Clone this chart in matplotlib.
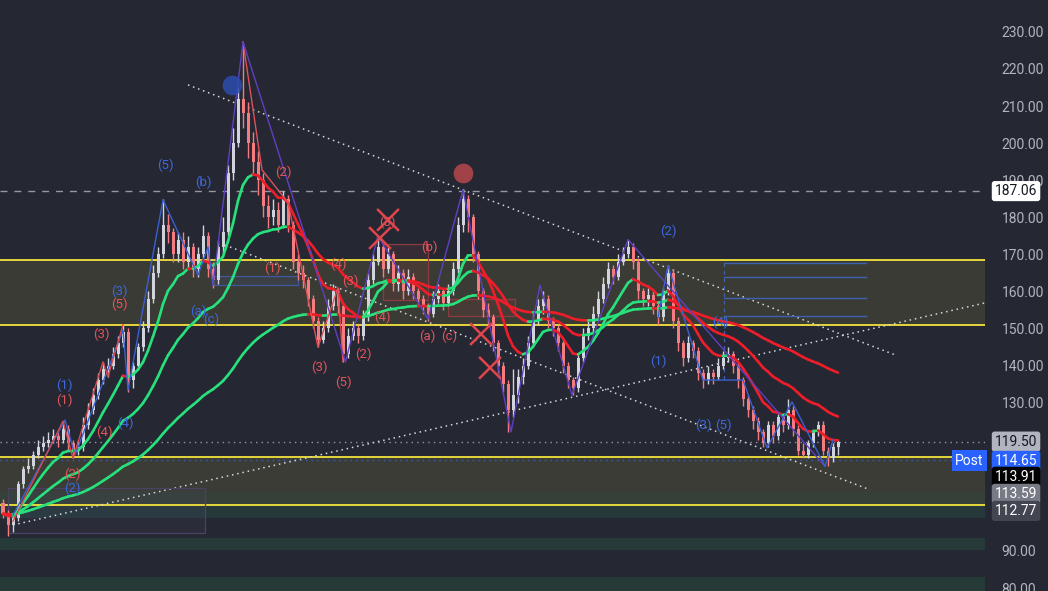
import matplotlib
matplotlib.use("Agg")
import matplotlib.pyplot as plt
import matplotlib.transforms as mtransforms
from matplotlib.collections import LineCollection
from matplotlib.patches import Rectangle
import numpy as np
import pandas as pd

plt.rcParams['font.family'] = ['Roboto', 'DejaVu Sans']

BG = '#252832'
UP = '#d1d4dc'
DOWN = '#f47b80'
GREEN = '#27e27c'
RED = '#ee1d2a'
BLUE_TXT = '#3d68dc'
RED_TXT = '#e2545a'
YELLOW = '#f3e33c'

# daily candles (open = previous close)
first_open = 103
closes = [100, 97, 99, 108, 112, 113, 116, 118, 119, 120, 121, 120, 123, 119, 117, 118,
          124, 128, 132, 136, 139, 140, 143, 146, 149, 136, 140, 145, 150, 158, 165, 170,
          178, 176, 170, 174, 168, 172, 166, 170, 175, 166, 163, 172, 176, 192, 200, 212,
          208, 200, 195, 190, 183, 180, 182, 178, 185, 178, 168, 165, 163, 158, 152, 147,
          150, 156, 160, 156, 143, 148, 150, 148, 153, 163, 168, 172, 166, 170, 162, 165,
          160, 164, 160, 158, 156, 154, 158, 160, 157, 160, 166, 178, 185, 180, 170, 160,
          155, 153, 146, 140, 135, 128, 132, 137, 140, 146, 152, 156, 158, 152, 150, 146,
          140, 136, 134, 142, 148, 150, 154, 158, 162, 166, 164, 168, 170, 172, 168, 160,
          158, 159, 156, 153, 160, 165, 152, 146, 142, 146, 144, 138, 136, 138, 137, 140,
          142, 143, 140, 136, 131, 128, 125, 122, 119, 124, 121, 126, 124, 128, 123, 117,
          116, 119, 122, 124, 117, 115, 118, 119.5]
highs = [104, 101, 100, 109, 113, 115, 117, 120, 121, 122, 123, 122, 125, 124, 120, 120,
         126, 130, 134, 138, 141, 142, 145, 148, 151, 150, 141, 146, 152, 160, 167, 172,
         185, 181, 177, 176, 176, 175, 173, 172, 178, 176, 168, 174, 180, 194, 204, 215,
         227, 211, 203, 198, 192, 186, 185, 184, 187, 186, 179, 170, 167, 164, 159, 153,
         152, 158, 162, 161, 157, 150, 152, 151, 155, 165, 170, 175, 173, 172, 171, 167,
         166, 166, 165, 161, 159, 157, 160, 162, 161, 162, 168, 180, 187.5, 186, 181, 171,
         161, 157, 154, 147, 141, 136, 139, 139, 142, 148, 154, 158, 160, 159, 153, 151,
         147, 141, 137, 143, 150, 152, 156, 160, 164, 168, 167, 170, 172, 174, 173, 169,
         161, 161, 160, 157, 161, 167, 166, 153, 147, 148, 147, 145, 139, 140, 139, 142,
         144, 145, 144, 141, 137, 132, 129, 126, 123, 125, 125, 127, 127, 131, 129, 124,
         119, 120, 123, 125, 125, 118, 119, 120]
lows = [99, 94, 95, 98, 107, 111, 112, 115, 117, 118, 119, 118, 119, 117, 115, 116,
        117, 123, 127, 131, 135, 137, 139, 142, 145, 133, 134, 139, 144, 149, 157, 164,
        169, 173, 168, 168, 166, 166, 164, 164, 169, 164, 161, 162, 170, 175, 190, 199,
        204, 196, 192, 186, 180, 177, 178, 176, 177, 176, 166, 163, 161, 156, 150, 145,
        146, 149, 155, 154, 141, 142, 147, 146, 147, 152, 162, 167, 164, 165, 160, 160,
        158, 159, 158, 156, 154, 152, 153, 157, 155, 156, 159, 165, 176, 176, 168, 158,
        153, 151, 144, 138, 133, 122, 126, 130, 135, 139, 145, 151, 154, 150, 148, 144,
        138, 134, 132, 133, 141, 147, 149, 153, 157, 161, 162, 163, 167, 169, 166, 158,
        156, 156, 154, 151, 152, 159, 150, 144, 140, 141, 142, 136, 134, 135, 135, 136,
        139, 141, 138, 134, 129, 126, 123, 120, 118, 118, 119, 120, 122, 123, 121, 116,
        115, 115, 118, 121, 116, 113, 114, 116]
opens = [first_open] + closes[:-1]

ema_spans = [10, 26, 70]

# levels and zones
dash_level = 187.06
last_close = 119.50
post_price = 114.65
yellow_levels = [168.5, 151.0, 115.35, 102.4]
zones = [(151.0, 168.5, '#3a3b34'), (105.9, 115.35, '#3a3c35'), (102.4, 105.9, '#354039'),
         (98.9, 102.4, '#26393a'), (90.3, 93.5, '#263a37'), (79.0, 83.0, '#263a37')]

# drawings, in (bar, price)
trend_lines = [((37, 215.7), (178.4, 142.9)), ((44.4, 172.5), (173.4, 106.5)),
               ((2, 97.0), (196.4, 156.9))]
blue_wave_left = [(2, 99.7), (12.4, 125.3), (14.4, 115.9), (24, 149.6), (25, 133.4),
                  (32, 184.7), (39, 164.4), (41, 172), (42, 161.7)]
red_wave_left = [(2, 98), (12, 125), (14, 115), (20, 141), (21, 137), (24, 151)]
red_wave_top = [(48, 227.3), (51.8, 192.8), (57, 184), (63, 145), (67, 161), (68, 141)]
purple_wave = [(42, 161.7), (48, 227.3), (68.5, 141), (75, 175), (85, 152.5), (92, 187.4),
               (101.6, 122.1), (107.4, 161.7), (113.8, 132), (125, 174), (164.4, 112.8)]
blue_wave_right = [(131, 153), (133, 167), (140, 136.1), (148, 136.1), (152.8, 117.8),
                   (157.8, 130.2), (164.4, 112.8), (166, 120)]
boxes = [((1, 94.85), (40.4, 107.0), '#4a4263'), ((42, 161.7), (59, 164.2), '#3f5a9c'),
         ((76, 157.7), (85, 172.8), '#8a3c44'), ((89, 153.5), (102.4, 158.0), '#8a3c44')]
fib_x = (144.2, 172.6)
fib_levels = [167.8, 164.0, 158.1, 153.3]
fib_bottom = 136.1

blue_labels = [("(5)", 32.4, 194.1), ("(b)", 40, 189.5), ("(3)", 23.2, 159.9),
               ("(1)", 12.2, 134.8), ("(4)", 24.4, 124.5), ("(2)", 13.8, 107.0),
               ("(a)", 39, 154.7), ("(c)", 41.6, 152.6), ("(2)", 133, 176.3),
               ("(4)", 143.4, 151.8), ("(1)", 131, 141.2), ("(3)", 140, 124.0),
               ("(5)", 144, 124.0)]
red_labels = [("(5)", 23.2, 156.4), ("(3)", 19.6, 148.5), ("(1)", 12.2, 130.7),
              ("(4)", 20.2, 122.1), ("(2)", 13.8, 110.8), ("(2)", 56, 192.2),
              ("(1)", 53.8, 166.3), ("(4)", 67, 167.4), ("(3)", 69.4, 162.8),
              ("(3)", 63.2, 139.6), ("(5)", 68, 135.6), ("(2)", 72, 143.1),
              ("(4)", 75.8, 152.9), ("(b)", 85.2, 172.0), ("(a)", 84.8, 148.0),
              ("(c)", 89.2, 148.0), ("(3)", 76.8, 178.7)]
x_marks = [(75.4, 174.4), (77, 179.3), (95.6, 148.5), (97.4, 139.4)]
circles = [(45.8, 215.7, '#2c4db0'), (92, 191.9, '#b8474c')]

y_ticks = [80, 90, 130, 140, 150, 160, 170, 180, 190, 200, 210, 220, 230]
# price tags on the right scale: (text, shown at, face, text colour)
price_tags = [("187.06", dash_level, 'white', '#131722'),
              ("119.50", last_close, '#b2b5be', '#131722'),
              ("114.65", 114.3, '#2962ff', 'white'),
              ("113.91", 110.0, '#000000', 'white'),
              ("113.59", 105.4, '#787b86', 'white'),
              ("112.77", 100.8, '#434651', 'white')]


def slope_line(ax, vals, lw=1.9):
    x = np.arange(len(vals))
    pts = np.column_stack([x, vals])
    segs = np.stack([pts[:-1], pts[1:]], axis=1)
    cols = [GREEN if b >= a else RED for a, b in zip(vals[:-1], vals[1:])]
    ax.add_collection(LineCollection(segs, colors=cols, linewidths=lw,
                                     capstyle='round', joinstyle='round', zorder=6))


fig = plt.figure(figsize=(10.48, 5.91), dpi=100, facecolor=BG)
ax = fig.add_axes([0, 0, 985 / 1048, 1])
ax.set_facecolor(BG)
ax.set_xlim(-0.6, 196.4)
ax.set_ylim(79.2, 238.6)

for lo, hi, c in zones:
    ax.axhspan(lo, hi, color=c, lw=0, zorder=0)
for lv in yellow_levels:
    ax.axhline(lv, color=YELLOW, lw=1.3, zorder=2)

ax.axhline(dash_level, color='#9598a1', lw=1, dashes=(5, 5), zorder=2)
ax.axhline(last_close, color='#9598a1', lw=1, dashes=(1, 3), zorder=2)
ax.axhline(post_price, color='#3a5bd0', lw=1, dashes=(1, 3), zorder=2)

for (x0, y0), (x1, y1) in trend_lines:
    ax.plot([x0, x1], [y0, y1], color='#d8d8dc', lw=1.1, dashes=(1, 2.5), zorder=3)

for (x0, y0), (x1, y1), c in boxes:
    ax.add_patch(Rectangle((x0, y0), x1 - x0, y1 - y0, fc=c, alpha=0.18, ec='none', zorder=1))
    ax.add_patch(Rectangle((x0, y0), x1 - x0, y1 - y0, fc='none', ec=c, lw=0.9, zorder=3))

for lv in fib_levels:
    ax.plot(fib_x, [lv, lv], color='#3f62b0', lw=1, zorder=3)
ax.plot([fib_x[0], fib_x[0]], [fib_levels[0], fib_bottom], color='#3f62b0', lw=0.9,
        dashes=(3, 3), zorder=3)

# candles
x = np.arange(len(closes))
o = np.array(opens)
c = np.array(closes)
cols = [UP if cc >= oo else DOWN for oo, cc in zip(o, c)]
ax.vlines(x, lows, highs, colors=cols, lw=1, zorder=4)
body = np.maximum(np.abs(c - o), 0.3)
ax.bar(x, body, bottom=np.minimum(o, c), width=0.6, color=cols, lw=0, zorder=4)

# moving averages
for span in ema_spans:
    ema = pd.Series(closes).ewm(span=span, adjust=False).mean().to_numpy()
    slope_line(ax, ema)

# wave zigzags
for pts, col in [(blue_wave_left, '#3b5fd0'), (red_wave_left, '#d84a50'),
                 (red_wave_top, '#e0505a'), (purple_wave, '#5f40c0'),
                 (blue_wave_right, '#3b5fd0')]:
    xs, ys = zip(*pts)
    ax.plot(xs, ys, color=col, lw=1.0, zorder=7)

for cx, cy, col in circles:
    ax.scatter([cx], [cy], s=200, color=col, alpha=0.85, lw=0, zorder=8)

for mx, my in x_marks:
    ax.plot([mx - 2, mx + 2], [my - 2.7, my + 2.7], color='#e0454c', lw=1.8, zorder=8)
    ax.plot([mx - 2, mx + 2], [my + 2.7, my - 2.7], color='#e0454c', lw=1.8, zorder=8)

for t, lx, ly in blue_labels:
    ax.text(lx, ly, t, color=BLUE_TXT, fontsize=9.5, ha='center', va='center', zorder=9)
for t, lx, ly in red_labels:
    ax.text(lx, ly, t, color=RED_TXT, fontsize=9.5, ha='center', va='center', zorder=9)

# right price scale
ax.yaxis.tick_right()
ax.set_yticks(y_ticks)
ax.set_yticklabels([f"{v:.2f}" for v in y_ticks])
ax.tick_params(axis='y', length=0, pad=12, labelsize=10, labelcolor='#b2b5be')
ax.set_xticks([])
for s in ax.spines.values():
    s.set_visible(False)

trans = mtransforms.blended_transform_factory(ax.transAxes, ax.transData)
for t, ly, face, tc in price_tags:
    ax.text(1.0315, ly, t, transform=trans, ha='center', va='center', fontsize=10,
            color=tc, zorder=10, clip_on=False,
            bbox=dict(boxstyle='round,pad=0.22,rounding_size=0.2', fc=face, ec='none'))
ax.text(0.984, 114.3, "Post", transform=trans, ha='center', va='center', fontsize=10,
        color='white', zorder=10, clip_on=False,
        bbox=dict(boxstyle='square,pad=0.25', fc='#2962ff', ec='none'))

fig.savefig('out.png', dpi=100, facecolor=BG)
